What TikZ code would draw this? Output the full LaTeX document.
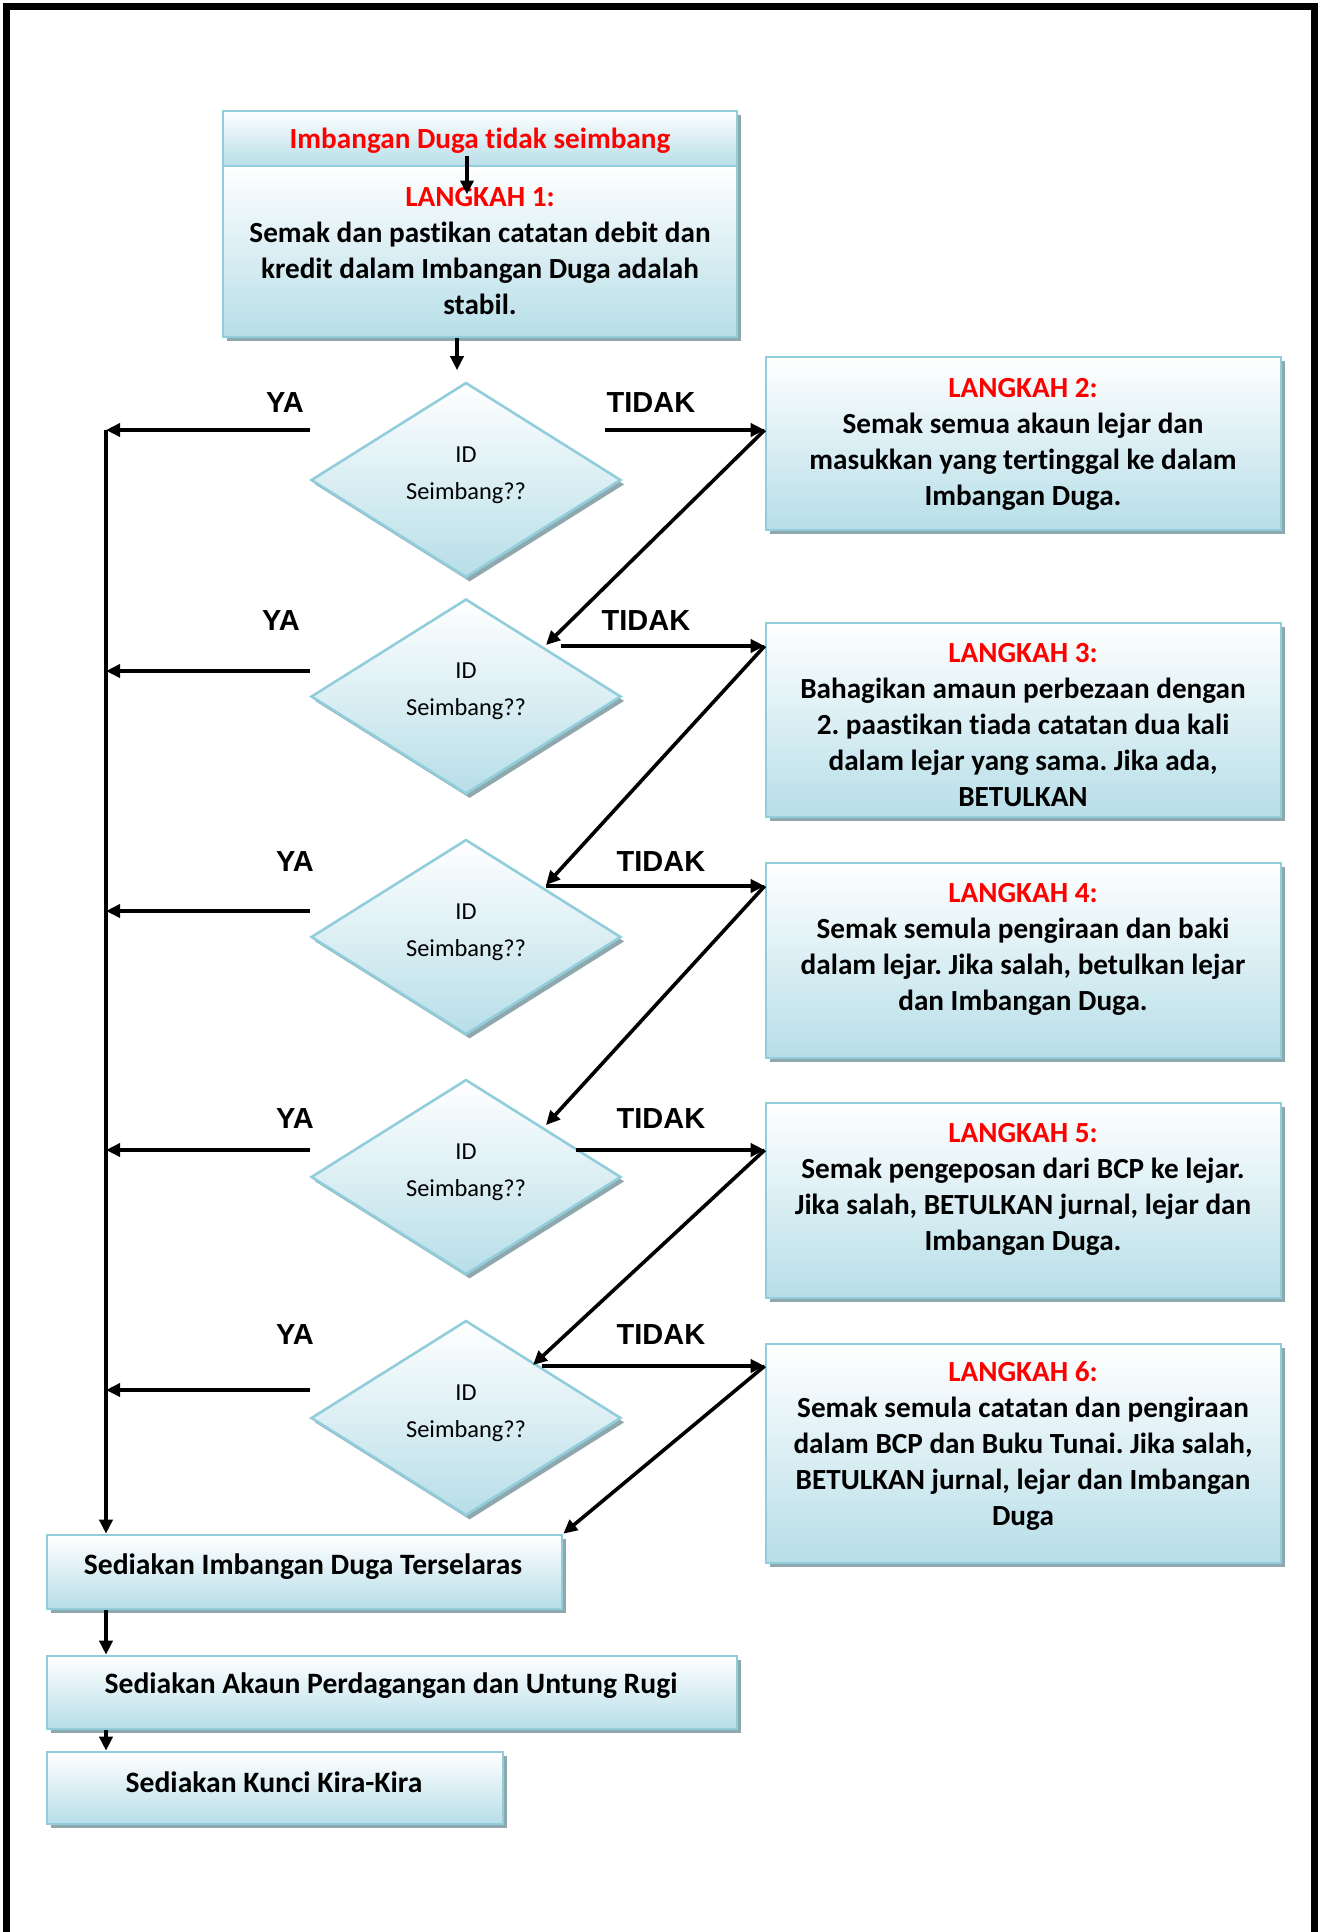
\documentclass[tikz,border=0pt]{standalone}
\usepackage{fontspec}
\setmainfont{Carlito}[Ligatures={NoCommon}]
\newfontfamily\arialfont{Liberation Sans}
\usetikzlibrary{shapes.geometric,shadows,arrows.meta,calc}
\definecolor{bord}{HTML}{92CDDC}
\definecolor{fillb}{HTML}{B7DEE8}
\definecolor{shad}{HTML}{8FA8AE}
\frenchspacing
\begin{document}
\begin{tikzpicture}[x=0.5pt,y=-0.5pt,
  flow/.style={draw=bord, line width=1.3pt, top color=white, bottom color=fillb,
    drop shadow={shadow xshift=1.8pt, shadow yshift=-2.2pt, fill=shad, opacity=1},
    inner sep=0pt},
  boxsty/.style={flow, rectangle, minimum width=#1},
  dia/.style={flow, diamond, minimum width=155pt, minimum height=97.5pt},
  dtxt/.style={font=\fontsize{12.2}{18.5}\selectfont, align=center},
  txt/.style={font=\fontsize{14.6}{18}\selectfont\bfseries, align=center},
  lbl/.style={font=\arialfont\fontsize{14.5}{17}\selectfont\bfseries},
  arr/.style={line width=1.8pt, -{Triangle[length=7pt,width=6.5pt]}},
  lin/.style={line width=1.8pt}
]
\useasboundingbox (0,0) rectangle (1319,1932);
% frame
\draw[line width=3.5pt, line join=miter] (6.5,1940) -- (6.5,6.5) -- (1314.5,6.5) -- (1314.5,1940);

% top box
\node[boxsty=257pt, minimum height=27.5pt] (hdr) at (480,138.5) {};
\node[boxsty=257pt, minimum height=85.5pt] (s1) at (480,251.5) {};
\node[txt, text=red] (hdrt) at (480,141) {Imbangan Duga tidak seimbang};
\node[txt] (s1t) at (480,251) {{\color{red}LANGKAH 1:}\\Semak dan pastikan catatan debit dan\\kredit dalam Imbangan Duga adalah\\stabil.};

% right boxes
\node[boxsty=257.5pt, minimum height=86.5pt] (b2) at (1023.5,443.5) {};
\node[boxsty=257.5pt, minimum height=97pt] (b3) at (1023.5,720) {};
\node[boxsty=257.5pt, minimum height=97.5pt] (b4) at (1023.5,960.5) {};
\node[boxsty=257.5pt, minimum height=97.5pt] (b5) at (1023.5,1200.5) {};
\node[boxsty=257.5pt, minimum height=109.5pt] (b6) at (1023.5,1453.5) {};

\node[txt] (b2t) at (1023,444) {{\color{red}LANGKAH 2:}\\Semak semua akaun lejar dan\\masukkan yang tertinggal ke dalam\\Imbangan Duga.};
\node[txt] (b3t) at (1023,725) {{\color{red}LANGKAH 3:}\\Bahagikan amaun perbezaan dengan\\2. paastikan tiada catatan dua kali\\dalam lejar yang sama. Jika ada,\\BETULKAN};
\node[txt] (b4t) at (1023,949) {{\color{red}LANGKAH 4:}\\Semak semula pengiraan dan baki\\dalam lejar. Jika salah, betulkan lejar\\dan Imbangan Duga.};
\node[txt] (b5t) at (1023,1189) {{\color{red}LANGKAH 5:}\\Semak pengeposan dari BCP ke lejar.\\Jika salah, BETULKAN jurnal, lejar dan\\Imbangan Duga.};
\node[txt] (b6t) at (1023,1446) {{\color{red}LANGKAH 6:}\\Semak semula catatan dan pengiraan\\dalam BCP dan Buku Tunai. Jika salah,\\BETULKAN jurnal, lejar dan Imbangan\\Duga};

% diamonds
\foreach \n/\yy in {d1/480,d2/696.5,d3/937,d4/1177,d5/1418} {
  \node[dia] (\n) at (466,\yy) {};
  \node[dtxt] (\n t) at ([yshift=2.5pt]\n.center) {ID\\Seimbang??};
}

% bottom boxes
\node[boxsty=257.5pt, minimum height=37pt] (ba) at (304.5,1572) {};
\node[boxsty=345pt, minimum height=36.5pt] (bb) at (392,1692.5) {};
\node[boxsty=228pt, minimum height=36pt] (bc) at (275,1788) {};
\node[txt, font=\fontsize{14.8}{18}\selectfont\bfseries] (bat) at (303,1567) {Sediakan Imbangan Duga Terselaras};
\node[txt, font=\fontsize{14.8}{18}\selectfont\bfseries] (bbt) at (391,1686) {Sediakan Akaun Perdagangan dan Untung Rugi};
\node[txt, font=\fontsize{14.8}{18}\selectfont\bfseries] (bct) at (274,1782) {Sediakan Kunci Kira-Kira};

% labels
\node[lbl] (ya1) at (285,403) {YA};
\node[lbl] (ya2) at (281,621) {YA};
\node[lbl] (ya3) at (295,862) {YA};
\node[lbl] (ya4) at (295,1119) {YA};
\node[lbl] (ya5) at (295,1335) {YA};
\node[lbl] (ti1) at (651,403) {TIDAK};
\node[lbl] (ti2) at (646,621) {TIDAK};
\node[lbl] (ti3) at (661,862) {TIDAK};
\node[lbl] (ti4) at (661,1119) {TIDAK};
\node[lbl] (ti5) at (661,1335) {TIDAK};

% connectors
\draw[arr] ([xshift=-6.5pt,yshift=-8.5pt]hdr.center) -- ([xshift=-6.5pt,yshift=-28pt]hdr.center);
\draw[arr] ([xshift=-11.5pt]s1.south) -- ([xshift=-4.5pt,yshift=5.5pt]d1.north);

% YA branch
\coordinate (vtop) at (106,430);
\draw[arr] (vtop) -- (vtop |- ba.north);
\coordinate (y1) at ([yshift=25pt]d1.west);
\coordinate (y2) at ([yshift=12.75pt]d2.west);
\coordinate (y3) at ([yshift=13pt]d3.west);
\coordinate (y4) at ([yshift=13.5pt]d4.west);
\coordinate (y5) at ([yshift=14pt]d5.west);
\foreach \i in {1,...,5} {\draw[arr] (y\i) -- (y\i -| vtop);}

% TIDAK branch
\coordinate (s1a) at (605,430);
\coordinate (s2a) at (561,646);
\coordinate (s3a) at (546,886);
\coordinate (s4a) at (576,1150);
\coordinate (s5a) at (542,1366);
\draw[arr] (s1a) -- (s1a -| b2.west) coordinate (t1);
\draw[arr] (s2a) -- (s2a -| b3.west) coordinate (t2);
\draw[arr] (s3a) -- (s3a -| b4.west) coordinate (t3);
\draw[arr] (s4a) -- (s4a -| b5.west) coordinate (t4);
\draw[arr] (s5a) -- (s5a -| b6.west) coordinate (t5);

% diagonals
\draw[arr] (t1) -- ([xshift=40pt,yshift=25.75pt]d2.center);
\draw[arr] (t2) -- ([xshift=40pt,yshift=26pt]d3.center);
\draw[arr] (t3) -- ([xshift=40pt,yshift=26pt]d4.center);
\draw[arr] (t4) -- ([xshift=33.5pt,yshift=26.5pt]d5.center);
\draw[arr] (t5) -- (ba.north east);

% bottom chain
\draw[arr] (vtop |- ba.south) -- (vtop |- bb.north);
\draw[arr] (vtop |- bb.south) -- (vtop |- bc.north);
\end{tikzpicture}
\end{document}
